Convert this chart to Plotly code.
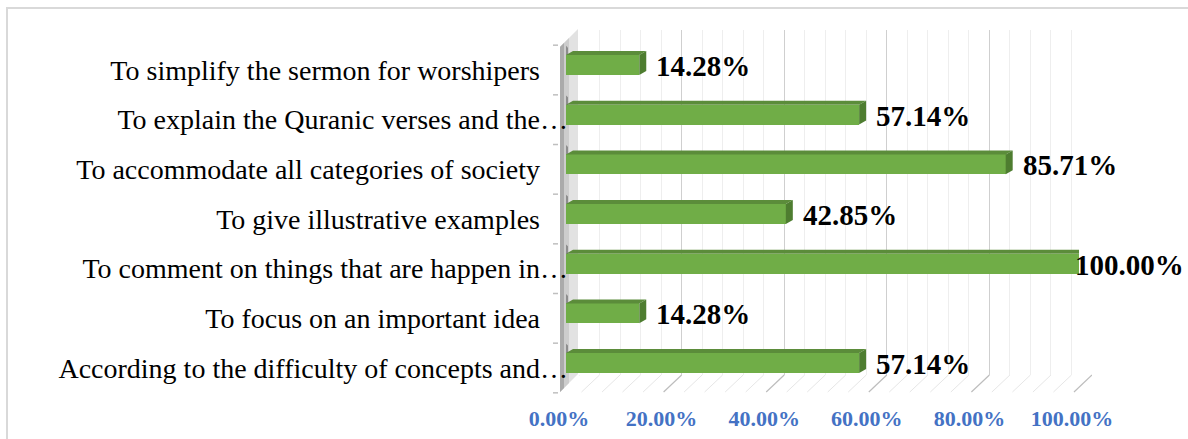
import plotly.graph_objects as go

# ---- data (top to bottom as listed on the chart) ----
categories = [
    "To simplify the sermon for worshipers",
    "To explain the Quranic verses and the…",
    "To accommodate all categories of society",
    "To give illustrative examples",
    "To comment on things that are happen in…",
    "To focus on an important idea",
    "According to the difficulty of concepts and…",
]
values = [14.28, 57.14, 85.71, 42.85, 100.00, 14.28, 57.14]
x_ticks = [0, 20, 40, 60, 80, 100]
x_tick_text = ["0.00%", "20.00%", "40.00%", "60.00%", "80.00%", "100.00%"]

# ---- page geometry (pixels) ----
W, H = 1188, 439
FRONT_X0, FRONT_X1 = 566, 1079      # bar plane: 0% .. 100%
BACK_X0, BACK_X1 = 579, 1092        # back wall: 0% .. 100%
PLOT_TOP, PLOT_BOTTOM = 30, 392     # vertical extent of the bar plane
WALL_BOTTOM = 375                   # bottom edge of the back wall
Y_RANGE = [-0.584, 6.705]
BAR_WIDTH = 0.40
BAR_DEPTH_PX = (7, 4)               # 3-D depth of each bar
FLOOR_DEPTH_PX = (18, 17)           # depth of the floor / side wall

GREEN_FRONT = "#70AD47"
GREEN_TOP = "#5B8C3A"
GREEN_SIDE = "#4E7D30"

# labels that are not truncated keep a trailing gap before the axis
LABEL_TAIL = "\u00a0" * 4


def px_x(x):
    return x / W


def px_y(y):
    return 1 - y / H


n = len(categories)
axis_order = list(reversed(categories))           # bottom to top
y_index = [axis_order.index(c) for c in categories]
axis_text = [c if c.endswith("…") else c + LABEL_TAIL for c in axis_order]

px_per_pct = (FRONT_X1 - FRONT_X0) / 100.0
px_per_cat = (PLOT_BOTTOM - PLOT_TOP) / (Y_RANGE[1] - Y_RANGE[0])
DX = BAR_DEPTH_PX[0] / px_per_pct
DY = BAR_DEPTH_PX[1] / px_per_cat

fig = go.Figure()

# carrier for the back-wall gridlines (drawn first, underneath)
fig.add_trace(go.Scatter(
    x=[0], y=[0], mode="markers", marker=dict(opacity=0),
    hoverinfo="skip", showlegend=False, xaxis="x", yaxis="y",
))

# front faces of the bars
fig.add_trace(go.Bar(
    x=values, y=y_index, orientation="h", width=BAR_WIDTH,
    marker=dict(color=GREEN_FRONT, line=dict(width=0)),
    hoverinfo="skip", showlegend=False, xaxis="x2", yaxis="y2",
))

# carrier for the category axis labels
fig.add_trace(go.Scatter(
    x=[0] * n, y=list(range(n)), mode="markers", marker=dict(opacity=0),
    hoverinfo="skip", showlegend=False, xaxis="x3", yaxis="y3",
))

shapes = []

# chart frame
shapes.append(dict(
    type="rect", xref="paper", yref="paper",
    x0=px_x(7), x1=1.05, y0=-0.05, y1=px_y(8),
    line=dict(color="#D9D9D9", width=2), fillcolor="rgba(0,0,0,0)",
    layer="below",
))

# floor gridlines (diagonals running from the front edge to the back wall)
for v in range(0, 101, 4):
    major = v % 20 == 0
    shapes.append(dict(
        type="line", xref="x", xsizemode="pixel", xanchor=v,
        x0=-FLOOR_DEPTH_PX[0], x1=0,
        yref="paper", ysizemode="pixel", yanchor=px_y(PLOT_BOTTOM),
        y0=0, y1=FLOOR_DEPTH_PX[1],
        line=dict(color="#BDBDBD" if major else "#E6E6E6", width=1.2 if major else 1),
        layer="below",
    ))

# side wall on the category axis (gray band with a darker outer edge)
fx = FRONT_X0 - 6
bands = [(0, 18, "#E2E2E2"), (0, 9, "#CDCDCD"), (0, 4, "#ABABAB")]
for a, b, col in bands:
    path = (
        f"M {px_x(fx + a)},{px_y(PLOT_BOTTOM - a)} "
        f"L {px_x(fx + a)},{px_y(PLOT_TOP + FLOOR_DEPTH_PX[1] - a)} "
        f"L {px_x(fx + b)},{px_y(PLOT_TOP + FLOOR_DEPTH_PX[1] - b)} "
        f"L {px_x(fx + b)},{px_y(PLOT_BOTTOM - b)} Z"
    )
    shapes.append(dict(type="path", xref="paper", yref="paper", path=path,
                       fillcolor=col, line=dict(width=0), layer="below"))

# shading on the side wall just above each bar
for c in y_index:
    y_lo = c + BAR_WIDTH / 2
    y_hi = c + 0.5
    shapes.append(dict(
        type="path", xref="x2", yref="y2",
        path=(f"M {-6 / px_per_pct},{y_lo} L {-6 / px_per_pct},{y_hi} "
              f"L {2 / px_per_pct},{y_hi - 0.15} L {2 / px_per_pct},{y_lo - 0.05} Z"),
        fillcolor="rgba(90,90,90,0.55)", line=dict(width=0), layer="below",
    ))

# top and side faces of the bars
for v, c in zip(values, y_index):
    lo, hi = c - BAR_WIDTH / 2, c + BAR_WIDTH / 2
    shapes.append(dict(
        type="path", xref="x2", yref="y2",
        path=f"M 0,{hi} L {v},{hi} L {v + DX},{hi + DY} L {DX},{hi + DY} Z",
        fillcolor=GREEN_TOP, line=dict(width=0), layer="above",
    ))
    shapes.append(dict(
        type="path", xref="x2", yref="y2",
        path=f"M {v},{lo} L {v},{hi} L {v + DX},{hi + DY} L {v + DX},{lo + DY} Z",
        fillcolor=GREEN_SIDE, line=dict(width=0), layer="above",
    ))

# short ticks marking the category boundaries
for k in range(n + 1):
    shapes.append(dict(
        type="line", xref="paper", yref="y3",
        x0=px_x(FRONT_X0 - 13), x1=px_x(FRONT_X0 - 8), y0=k - 0.5, y1=k - 0.5,
        line=dict(color="#BFBFBF", width=1.5), layer="above",
    ))

# value labels
annotations = []
for v, c in zip(values, y_index):
    annotations.append(dict(
        x=v, y=c, xref="x2", yref="y2", text=f"{v:.2f}%", showarrow=False,
        xanchor="left", yanchor="middle", xshift=15 if v < 100 else -6, yshift=-1,
        font=dict(family="Liberation Serif", size=29, color="#000000", weight="bold"),
    ))

fig.update_layout(
    width=W, height=H, autosize=False,
    margin=dict(l=0, r=0, t=0, b=0, pad=0),
    paper_bgcolor="white", plot_bgcolor="rgba(0,0,0,0)",
    showlegend=False, bargap=0,
    shapes=shapes, annotations=annotations,
    xaxis=dict(
        domain=[px_x(BACK_X0), px_x(BACK_X1)], range=[0, 100], anchor="y",
        tick0=0, dtick=20, showgrid=True, gridcolor="#CFCFCF", gridwidth=1,
        minor=dict(dtick=4, showgrid=True, gridcolor="#EEEEEE", gridwidth=1),
        showticklabels=False, ticks="", zeroline=False, showline=False,
        automargin=False,
    ),
    yaxis=dict(
        domain=[px_y(WALL_BOTTOM), px_y(PLOT_TOP)], range=[0, 1], anchor="x",
        visible=False,
    ),
    xaxis2=dict(
        domain=[px_x(FRONT_X0), px_x(FRONT_X1)], range=[0, 100], anchor="y2",
        tickvals=x_ticks, ticktext=x_tick_text,
        showgrid=False, zeroline=False, showline=False, ticks="",
        ticklabelshift=-7, ticklabelstandoff=11, automargin=False,
        tickfont=dict(family="Liberation Serif", size=22, color="#4472C4", weight="bold"),
    ),
    yaxis2=dict(
        domain=[px_y(PLOT_BOTTOM), px_y(PLOT_TOP)], range=Y_RANGE, anchor="x2",
        showticklabels=False, showgrid=False, zeroline=False, showline=False,
        ticks="", automargin=False,
    ),
    xaxis3=dict(domain=[0, 0.01], anchor="y3", visible=False),
    yaxis3=dict(
        tickvals=list(range(n)), ticktext=axis_text,
        domain=[px_y(PLOT_BOTTOM + 5), px_y(PLOT_TOP + 5)], range=Y_RANGE,
        anchor="free", position=px_x(FRONT_X0 - 8), side="left",
        ticks="", showgrid=False, zeroline=False, showline=False,
        ticklabelstandoff=-10, automargin=False,
        tickfont=dict(family="Liberation Serif", size=28, color="#000000"),
    ),
)

fig.write_html("out.html")
